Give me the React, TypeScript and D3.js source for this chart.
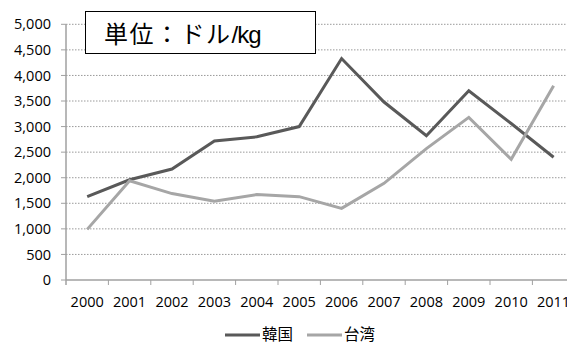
import React from "react";
import * as d3 from "d3";

const years = ["2000","2001","2002","2003","2004","2005","2006","2007","2008","2009","2010","2011"];
const korea = [1630, 1960, 2170, 2720, 2800, 3000, 4330, 3480, 2820, 3700, 3060, 2400];
const taiwan = [990, 1940, 1690, 1540, 1670, 1630, 1400, 1890, 2570, 3180, 2360, 3800];
const yTicks = [0, 500, 1000, 1500, 2000, 2500, 3000, 3500, 4000, 4500, 5000];
const seriesNames = ["韓国", "台湾"];
const colors = ["#595959", "#a6a6a6"];

export default function App() {
  const W = 567, H = 342;
  const x0 = 66, bw = 42.4;
  const x = d3.scaleBand().domain(years).range([x0, x0 + bw * years.length]).paddingInner(0).paddingOuter(0);
  const y = d3.scaleLinear().domain([0, 5000]).range([280, 24.3]);
  const fmt = d3.format(",");
  const line = d3.line<number>().x((_, i) => (x(years[i]) as number) + bw / 2).y(d => y(d));
  const font = "'Open Sans', 'Noto Sans CJK JP', sans-serif";
  return (
    <svg width={W} height={H} style={{ position: "absolute", left: 0, top: 0, background: "#fff" }}>
      {yTicks.map(t => (
        <g key={t}>
          {t > 0 && <line x1={x0} x2={W} y1={y(t)} y2={y(t)} stroke="#9a9a9a" strokeWidth={1} strokeDasharray="1.5,1.5" />}
          <line x1={61} x2={x0} y1={y(t)} y2={y(t)} stroke="#a0a0a0" />
          <text x={51} y={y(t)} dy="0.35em" textAnchor="end" fontFamily={font} fontSize={14.5} fill="#000">{fmt(t)}</text>
        </g>
      ))}
      <line x1={x0} x2={x0} y1={y(5000)} y2={285} stroke="#a0a0a0" strokeWidth={1.5} />
      <line x1={x0} x2={W} y1={280} y2={280} stroke="#a0a0a0" strokeWidth={1.5} />
      {years.map((yr, i) => (
        <g key={yr}>
          <line x1={(x(yr) as number) + bw} x2={(x(yr) as number) + bw} y1={280} y2={285} stroke="#a0a0a0" />
          <text x={(x(yr) as number) + bw / 2} y={302} dy="0.35em" textAnchor="middle" fontFamily={font} fontSize={14.5} fill="#000">{yr}</text>
        </g>
      ))}
      {[korea, taiwan].map((s, i) => (
        <path key={i} d={line(s) as string} fill="none" stroke={colors[i]} strokeWidth={3} strokeLinejoin="miter" />
      ))}
      <rect x={85.5} y={11.5} width={230} height={42} fill="#fff" stroke="#000" strokeWidth={1} />
      <text x={104} y={43} fontSize={24} fill="#000">
        <tspan fontFamily="'Noto Sans CJK JP', sans-serif" letterSpacing={1.5}>単位：ドル</tspan>
        <tspan fontFamily="'Liberation Sans', Arial, sans-serif" letterSpacing={-1}>/kg</tspan>
      </text>
      {seriesNames.map((n, i) => {
        const lx = [225, 307][i];
        return (
          <g key={n}>
            <line x1={lx} x2={lx + 35} y1={335} y2={335} stroke={colors[i]} strokeWidth={3} />
            <text x={lx + 37} y={335} dy="0.35em" fontFamily="'Noto Sans CJK JP', sans-serif" fontSize={15.5} fill="#000">{n}</text>
          </g>
        );
      })}
    </svg>
  );
}
